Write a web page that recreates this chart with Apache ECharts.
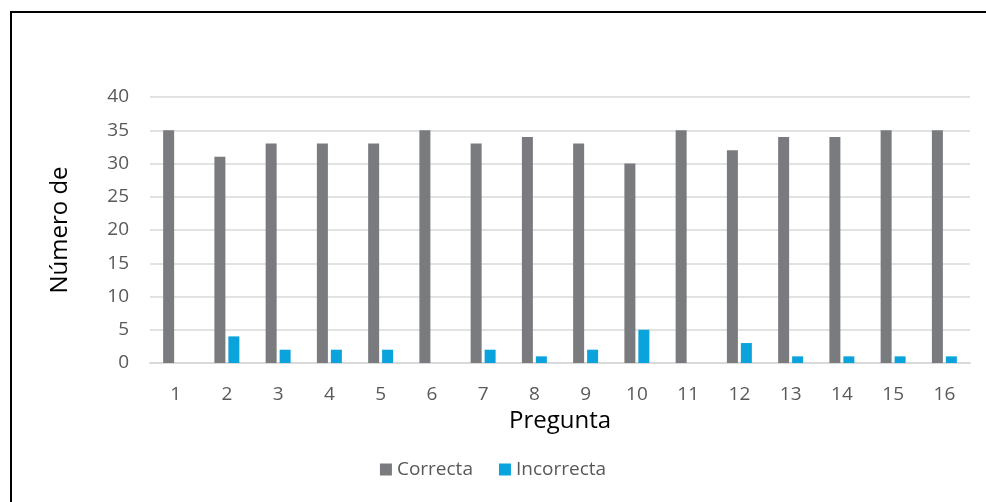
<!DOCTYPE html>
<html>
<head>
<meta charset="utf-8">
<script src="https://cdn.jsdelivr.net/npm/echarts@6/dist/echarts.min.js"></script>
<style>
  html, body { margin: 0; padding: 0; background: #fff; overflow: hidden; }
  #frame { position: absolute; left: 10px; top: 11px; width: 1100px; height: 700px; border-left: 2px solid #000; border-top: 2px solid #000; }
  #chart { position: absolute; left: 0; top: 0; width: 986px; height: 502px; }
</style>
</head>
<body>
<div id="frame"></div>
<div id="chart"></div>
<script>
  // preguntas 1..16
  var preguntas = ['1','2','3','4','5','6','7','8','9','10','11','12','13','14','15','16'];
  var correcta = [35, 31, 33, 33, 33, 35, 33, 34, 33, 30, 35, 32, 34, 34, 35, 35];
  var incorrecta = [0, 4, 2, 2, 2, 0, 2, 1, 2, 5, 0, 3, 1, 1, 1, 1];

  var font = 'Open Sans';
  var chart = echarts.init(document.getElementById('chart'));
  chart.setOption({
    animation: false,
    textStyle: { fontFamily: font },
    grid: { left: 150, right: 16, top: 97, bottom: 139 },
    legend: {
      bottom: 18,
      left: 'center',
      itemWidth: 12,
      itemHeight: 12,
      itemGap: 26,
      icon: 'rect',
      textStyle: { color: '#595959', fontSize: 19, fontFamily: font },
      data: ['Correcta', 'Incorrecta']
    },
    xAxis: {
      type: 'category',
      data: preguntas,
      name: 'Pregunta',
      nameLocation: 'middle',
      nameGap: 46,
      nameTextStyle: { color: '#000', fontSize: 24, fontFamily: font },
      axisLine: { lineStyle: { color: '#d9d9d9', width: 2 } },
      axisTick: { show: false },
      axisLabel: { color: '#595959', fontSize: 19, margin: 22 }
    },
    yAxis: {
      type: 'value',
      min: 0,
      max: 40,
      interval: 5,
      name: 'Número de',
      nameLocation: 'middle',
      nameGap: 78,
      nameRotate: 90,
      nameTextStyle: { color: '#000', fontSize: 24, fontFamily: font },
      axisLine: { show: false },
      axisTick: { show: false },
      axisLabel: { color: '#595959', fontSize: 19, margin: 21 },
      splitLine: { lineStyle: { color: '#d9d9d9', width: 1.5 } }
    },
    series: [
      {
        name: 'Correcta',
        type: 'bar',
        data: correcta,
        barWidth: 11,
        barGap: '27%',
        itemStyle: { color: '#7a7b7f' }
      },
      {
        name: 'Incorrecta',
        type: 'bar',
        data: incorrecta,
        barWidth: 11,
        itemStyle: { color: '#0ba3db' }
      }
    ]
  });
</script>
</body>
</html>
